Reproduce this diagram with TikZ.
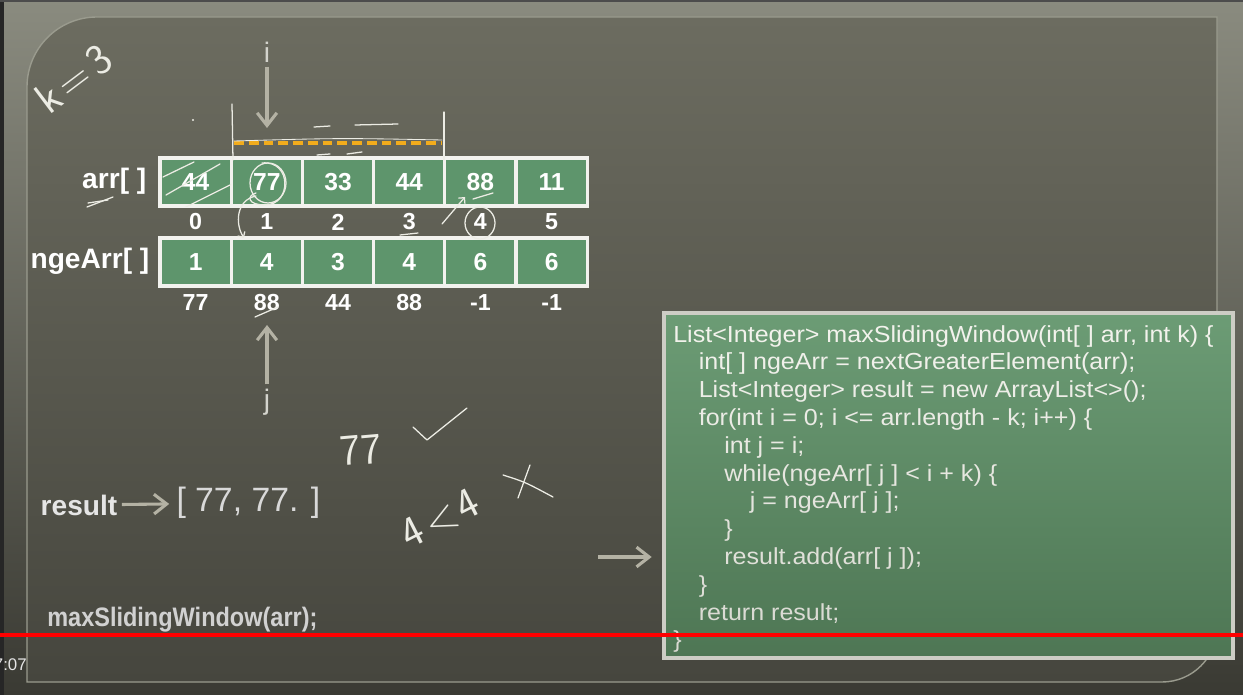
\documentclass[tikz,border=0pt]{standalone}
\usepackage{fontspec}
\setmainfont{Liberation Sans}
\newfontfamily\codefont[FakeStretch=1.08]{Liberation Sans}
\newfontfamily\narrowfont[FakeStretch=0.88]{Liberation Sans}
\usetikzlibrary{arrows.meta}
\definecolor{FrameTop}{HTML}{8A8B7F}
\definecolor{FrameBot}{HTML}{3A3A33}
\definecolor{BoardTop}{HTML}{6C6C60}
\definecolor{BoardBot}{HTML}{46463E}
\definecolor{BoardEdge}{HTML}{9A9B8E}
\definecolor{CellGreen}{HTML}{5E956C}
\definecolor{CellLine}{HTML}{F2F2EE}
\definecolor{PtrGrey}{HTML}{B4B2A4}
\definecolor{CodeTop}{HTML}{6C9C75}
\definecolor{CodeBot}{HTML}{4E7654}
\definecolor{CodeLine}{HTML}{CDCDC5}
\definecolor{CodeText}{HTML}{F2F2EC}
\definecolor{CodeFade}{HTML}{C4C4BC}
\definecolor{WinOrange}{HTML}{F2AC1C}
\definecolor{Chalk}{HTML}{ECECE4}

\begin{document}
\begin{tikzpicture}[x=0.025cm,y=-0.025cm]
  \tikzstyle{cell}=[draw=CellLine,fill=CellGreen,line width=2.2pt,
    minimum width=1.78cm,minimum height=1.2cm,inner sep=0pt,outer sep=0pt,
    text=white,font=\bfseries\fontsize{17.5}{20}\selectfont]
  \tikzstyle{idx}=[inner sep=1pt,text=white,font=\bfseries\fontsize{16.5}{19}\selectfont]
  \tikzstyle{lbl}=[inner sep=1pt,text=white,font=\bfseries\fontsize{20}{24}\selectfont]
  \tikzstyle{ptrlbl}=[inner sep=3pt,text=Chalk!90!black,font=\fontsize{20}{24}\selectfont]
  \tikzstyle{ptr}=[-{Straight Barb[length=9pt,width=14pt]},line width=2.2pt,color=PtrGrey]
  \tikzstyle{chalk}=[draw=Chalk,line width=0.9pt,line cap=round,line join=round]
  \tikzstyle{hand}=[inner sep=0pt,text=Chalk,font=\sffamily\fontsize{31}{33}\selectfont]
  \tikzstyle{codeline}=[anchor=base west,inner sep=0pt,font=\codefont\fontsize{16.5}{19}\selectfont]
  \useasboundingbox (0,0) rectangle (1243,695);
  % frame and board
  \shade[top color=FrameTop,bottom color=FrameBot] (0,0) rectangle (1243,695);
  \fill[black!85] (0,0) rectangle (4,695);
  \fill[black!70] (0,0) rectangle (1243,2);
  \shade[top color=BoardTop,bottom color=BoardBot,draw=BoardEdge,line width=1pt]
    (27,682) -- (27,87) arc[start angle=180,end angle=270,radius=70]
    -- (1217,17) -- (1217,627) arc[start angle=0,end angle=90,radius=55] -- cycle;

  % arrays
  \foreach \v [count=\n from 0] in {44,77,33,44,88,11}
    \node[cell] (a\n) at ({195.6+71.2*\n},182) {\v};
  \foreach \v [count=\n from 0] in {1,4,3,4,6,6}
    \node[cell] (g\n) at ({195.6+71.2*\n},262) {\v};
  \foreach \v [count=\n from 0] in {0,1,2,3,4,5}
    \node[idx] (idx\n) at ({195.6+71.2*\n},222) {\v};
  \foreach \v [count=\n from 0] in {77,88,44,88,-1,-1}
    \node[idx] (val\n) at ({195.6+71.2*\n},303) {\v};
  \node[lbl,anchor=east] (arrlbl) at (148,181) {arr[ ]};
  \node[lbl,anchor=east] (ngelbl) at (151,261) {ngeArr[ ]};

  % pointers i and j
  \node[ptrlbl] (ilbl) at (267,52) {i};
  \coordinate (itip) at (267,128);
  \draw[ptr] (ilbl) -- (itip);
  \node[ptrlbl] (jlbl) at (267,402) {j};
  \coordinate (jtip) at (267,325);
  \draw[ptr] (jlbl) -- (jtip);

  % window k = 3
  \draw[chalk] (232,104) -- (233,160);
  \draw[chalk] (444,112) -- (444,160);
  \draw[WinOrange,line width=3.2pt,dash pattern=on 7pt off 3.5pt] (234,143) -- (442,143);
  \draw[chalk,line width=0.6pt] (234,141) .. controls (340,138) .. (442,140);
  \draw[chalk] (314,127) -- (330,126);
  \draw[chalk] (355,125) -- (398,124);
  \draw[chalk] (317,155) -- (330,154);
  \draw[chalk] (347,154) -- (362,152);
  \fill[Chalk] (193,120) circle[radius=1.2];

  % chalk marks on the arrays
  \begin{scope}
    \clip (a0.south west) rectangle (a0.north east);
    \draw[chalk] (163,177) -- (194,162);
    \draw[chalk] (166,195) -- (220,164);
    \draw[chalk] (184,208) -- (232,184);
  \end{scope}
  \draw[chalk] (268,183) ellipse[x radius=18,y radius=20];
  \draw[chalk] (262,163) .. controls (292,160) and (292,205) .. (265,205)
    .. controls (248,205) and (246,196) .. (256,193);
  \draw[chalk,-{Straight Barb[length=3pt,width=6pt]}] (256,196) .. controls (236,200) and (235,224) .. (244,238);
  \draw[chalk,-{Straight Barb[length=3pt,width=6pt]}] (442,224) -- (465,197);
  \draw[chalk] (473,199) -- (493,193);
  \draw[chalk] (400,235) -- (418,233);
  \draw[chalk] (480,223) ellipse[x radius=15,y radius=16];
  \draw[chalk] (87,207) -- (113,197);
  \draw[chalk] (88,203) -- (108,200);
  \draw[chalk] (255,317) -- (278,307);

  % handwriting
  \node[hand,rotate=37] (kval) at (74,79) {k\hspace{4pt}=\hspace{4pt}3};
  \node[hand,rotate=5] (seven) at (361,450) {77};
  \draw[chalk] (413,427) -- (427,440) -- (467,408);
  \node[hand,rotate=27] (cmp) at (440,519) {4\hspace{4pt}<\hspace{2pt}4};
  \draw[chalk] (503,475) .. controls (525,482) .. (553,497);
  \draw[chalk] (530,465) -- (518,498);

  % result
  \node[lbl,anchor=west,text=white!90!black] (res) at (39,505) {result};
  \node[anchor=west,inner sep=3pt,text=white!85!black,font=\fontsize{24}{28}\selectfont]
    (reslist) at (172,503) {[ 77, 77. ]};
  \draw[ptr,shorten <=2pt,shorten >=2pt] (res) -- (reslist);
  \node[anchor=west,inner sep=0pt,text=white!82!black,font=\narrowfont\bfseries\fontsize{19}{22}\selectfont]
    (call) at (47,620) {maxSlidingWindow(arr);};

  % code
  \node[draw=CodeLine,line width=2.4pt,top color=CodeTop,bottom color=CodeBot,
    minimum width=14.225cm,minimum height=8.625cm] (code) at (948.5,485.5) {};
  \foreach \lvl/\src [count=\n from 0] in {
      0/{List<Integer> maxSlidingWindow(int[ ] arr, int k) \{},
      1/{int[ ] ngeArr = nextGreaterElement(arr);},
      1/{List<Integer> result = new ArrayList<>();},
      1/{for(int i = 0; i <= arr.length - k; i++) \{},
      2/{int j = i;},
      2/{while(ngeArr[ j ] < i + k) \{},
      3/{j = ngeArr[ j ];},
      2/{\}},
      2/{result.add(arr[ j ]);},
      1/{\}},
      1/{return result;},
      0/{\}}} {
    \pgfmathtruncatemacro\fade{100-5*\n}
    \node[codeline,text=CodeText!\fade!CodeFade] (c\n) at ({673+25.5*\lvl},{342+27.8*\n}) {\src};
  }
  \coordinate (cfrom) at (598,557);
  \draw[ptr,shorten >=7.5pt] (cfrom) -- (cfrom -| code.west);

  % video overlay
  \draw[red,line width=2.2pt] (0,635) -- (1243,635);
  \node[anchor=east,inner sep=0pt,text=white!90!black,font=\fontsize{12}{14}\selectfont]
    (clock) at (27,665) {7:07};
\end{tikzpicture}
\end{document}
